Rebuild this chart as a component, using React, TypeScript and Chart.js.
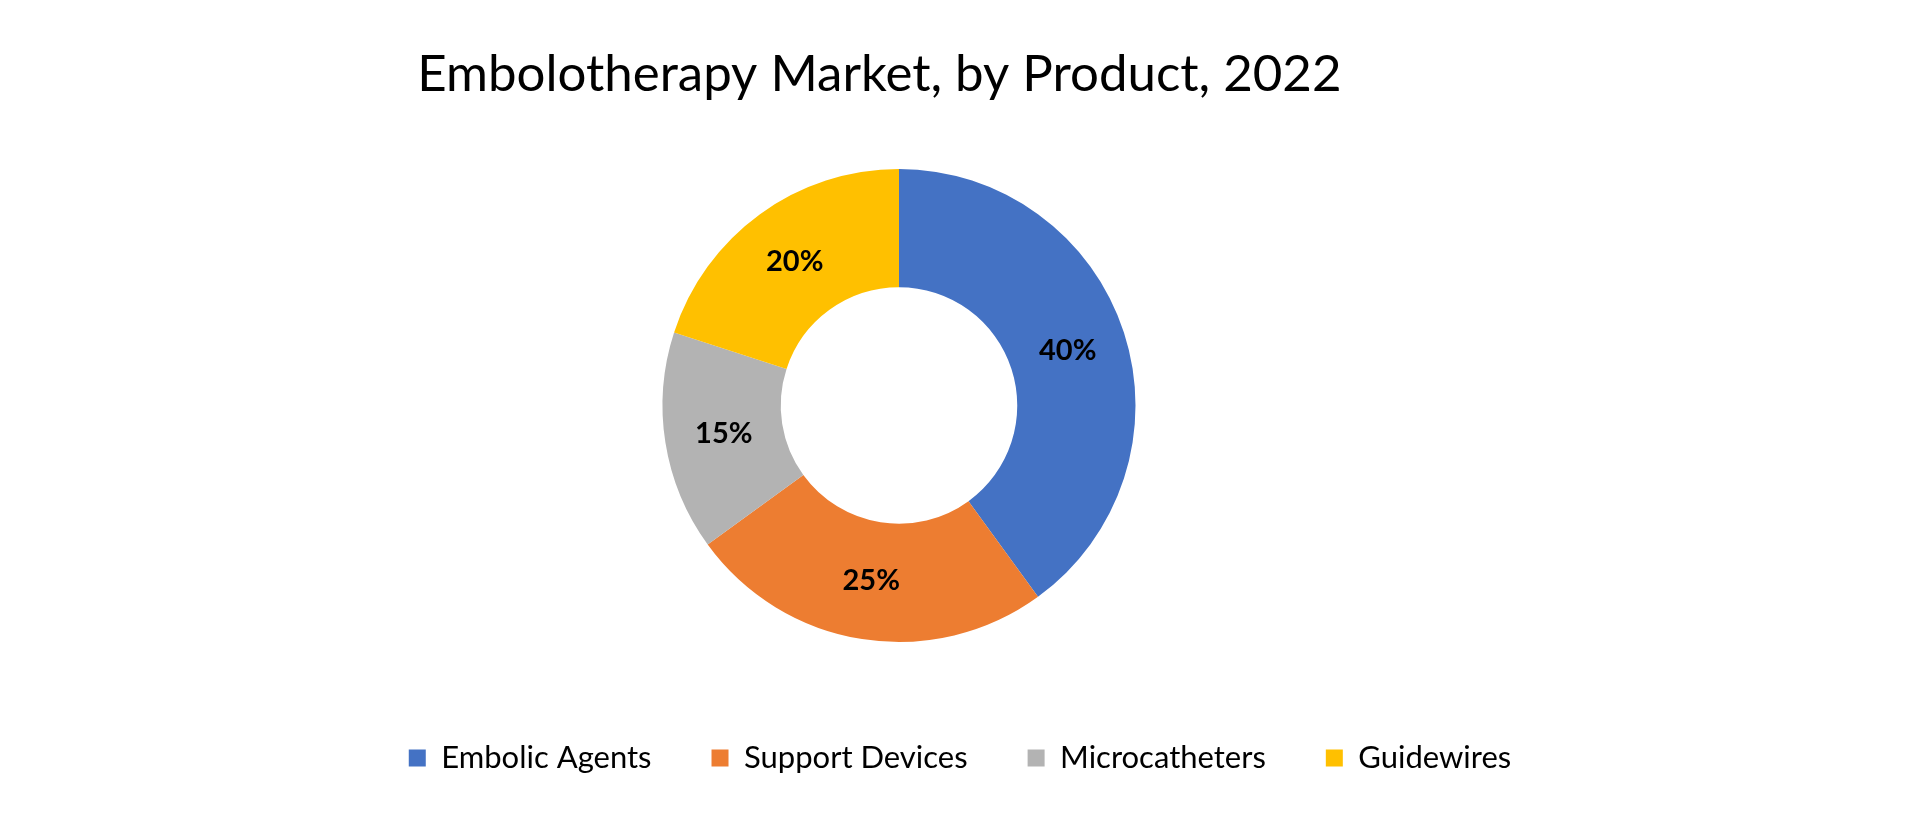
import React, { useEffect, useRef } from "react";
import { Chart, registerables } from "chart.js";

Chart.register(...registerables);

const categories = ["Embolic Agents", "Support Devices", "Microcatheters", "Guidewires"];
const shares = [40, 25, 15, 20];
const sliceColors = ["#4472C4", "#ED7D31", "#B3B3B3", "#FFC000"];
const chartTitle = "Embolotherapy Market, by Product, 2022";

const percentLabels = {
  id: "percentLabels",
  afterDatasetsDraw(chart: any) {
    const ctx = chart.ctx;
    const meta = chart.getDatasetMeta(0);
    const values = chart.data.datasets[0].data as number[];
    ctx.save();
    ctx.font = "bold 29px Lato";
    ctx.fillStyle = "#000000";
    ctx.textAlign = "center";
    ctx.textBaseline = "middle";
    meta.data.forEach((arc: any, i: number) => {
      const p = arc.tooltipPosition();
      ctx.fillText(values[i] + "%", p.x, p.y);
    });
    ctx.restore();
  },
};

export default function App() {
  const canvasRef = useRef<HTMLCanvasElement | null>(null);

  useEffect(() => {
    if (!canvasRef.current) return;
    const chart = new Chart(canvasRef.current, {
      type: "doughnut",
      data: {
        labels: categories,
        datasets: [
          {
            data: shares,
            backgroundColor: sliceColors,
            borderWidth: 0,
          },
        ],
      },
      options: {
        animation: false,
        responsive: true,
        maintainAspectRatio: false,
        cutout: "50%",
        layout: { padding: { top: 0, bottom: 34.5, left: 0, right: 0 } },
        plugins: {
          title: {
            display: true,
            text: chartTitle + "\u00a0\u00a0\u00a0",
            fullSize: false,
            color: "#000000",
            font: { family: "Lato", size: 51, weight: "normal", lineHeight: 1.2 },
            padding: { top: 43.7, bottom: 64.1 },
          },
          subtitle: {
            display: true,
            text: " ",
            position: "right",
            font: { size: 12, lineHeight: 1.2 },
            padding: { top: 53.8, bottom: 53.8 },
          },
          legend: {
            display: true,
            position: "bottom",
            title: {
              display: true,
              text: " ",
              font: { size: 12, lineHeight: 1.2 },
              padding: { top: 26.1, bottom: 0 },
            },
            labels: {
              boxWidth: 17,
              boxHeight: 17,
              padding: 60,
              color: "#000000",
              font: { family: "Lato", size: 31 },
            },
          },
          tooltip: { enabled: false },
        },
      },
      plugins: [percentLabels],
    });
    return () => chart.destroy();
  }, []);

  return (
    <div style={{ position: "fixed", left: 0, top: 0, width: 1920, height: 818, background: "#ffffff" }}>
      <canvas ref={canvasRef} />
    </div>
  );
}
